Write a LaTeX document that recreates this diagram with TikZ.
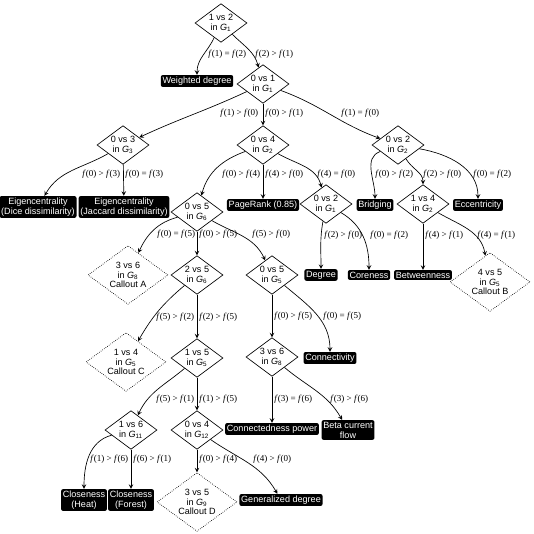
\documentclass[tikz,border=0pt]{standalone}
\usepackage{fontspec}
\setmainfont{Liberation Sans}
\newfontfamily\condfont{Liberation Serif}
\usetikzlibrary{shapes.geometric, arrows, positioning}

\newcommand{\gr}[1]{\textit{G}\textsubscript{#1}}
\newcommand{\fv}[1]{\textit{f}(#1)}

\begin{document}
\begin{tikzpicture}[
    x=0.75pt, y=-0.75pt,
    decision/.style={diamond, draw, line width=0.5pt, aspect=1.4, inner sep=0pt, minimum width=39pt, minimum height=29pt, align=center, font=\fontsize{6.8}{7.4}\selectfont},
    callout/.style={decision, densely dotted, minimum width=60pt, minimum height=44pt},
    metric/.style={rectangle, fill=black, text=white, rounded corners=1.5pt, inner sep=1.3pt, align=center, font=\fontsize{6.8}{7.4}\selectfont},
    arrow/.style={line width=0.5pt, ->, >=stealth},
    cond/.style={font=\condfont\fontsize{6.8}{7.6}\selectfont, inner sep=1.5pt, anchor=west}
]
    \useasboundingbox (0,0) rectangle (534,534);

    % decisions and metrics
    \node [decision] (d12) at (221,23) {1 vs 2\\in \gr{1}};
    \node [metric] (wdeg) at (197,81) {Weighted degree};
    \node [decision] (d01) at (263,84) {0 vs 1\\in \gr{1}};

    \node [decision] (d03) at (123,145) {0 vs 3\\in \gr{3}};
    \node [decision] (d04) at (263,145) {0 vs 4\\in \gr{2}};
    \node [decision] (d02) at (398,145) {0 vs 2\\in \gr{2}};

    \node [metric] (eigdice) at (38,207) {Eigencentrality\\(Dice dissimilarity)};
    \node [metric] (eigjac) at (124,207) {Eigencentrality\\(Jaccard dissimilarity)};
    \node [decision] (d05) at (197,212) {0 vs 5\\in \gr{6}};
    \node [metric] (prank) at (263,205) {PageRank (0.85)};
    \node [decision] (d02b) at (326,204) {0 vs 2\\in \gr{1}};
    \node [metric] (bridg) at (375,205) {Bridging};
    \node [decision] (d14) at (423,204) {1 vs 4\\in \gr{2}};
    \node [metric] (eccen) at (478,205) {Eccentricity};

    \node [callout] (cA) at (128,275) {3 vs 6\\in \gr{8}\\Callout A};
    \node [decision] (d25) at (197,275) {2 vs 5\\in \gr{6}};
    \node [decision] (d05b) at (272,275) {0 vs 5\\in \gr{5}};
    \node [metric] (degr) at (321,275) {Degree};
    \node [metric] (core) at (369,275) {Coreness};
    \node [metric] (betw) at (423,275) {Betweenness};
    \node [callout] (cB) at (490,282) {4 vs 5\\in \gr{5}\\Callout B};

    \node [callout] (cC) at (126,362) {1 vs 4\\in \gr{5}\\Callout C};
    \node [decision] (d15) at (197,358) {1 vs 5\\in \gr{5}};
    \node [decision] (d36) at (272,357) {3 vs 6\\in \gr{8}};
    \node [metric] (conn) at (330,358) {Connectivity};

    \node [decision] (d16) at (131,430) {1 vs 6\\in \gr{11}};
    \node [decision] (d04b) at (197,430) {0 vs 4\\in \gr{12}};
    \node [metric] (cpow) at (272,429) {Connectedness power};
    \node [metric] (beta) at (348,430) {Beta current\\flow};

    \node [metric] (cheat) at (84,500) {Closeness\\(Heat)};
    \node [metric] (cfor) at (131,500) {Closeness\\(Forest)};
    \node [callout] (cD) at (197,502) {3 vs 5\\in \gr{9}\\Callout D};
    \node [metric] (gdeg) at (281,500) {Generalized degree};

    % branches
    \draw [arrow] (d12) to[out=-115, in=90] (wdeg) node[cond] at (206,54) {\fv{1} = \fv{2}};
    \draw [arrow] (d12) to[out=-45, in=105] (d01) node[cond] at (253,54) {\fv{2} > \fv{1}};

    \draw [arrow] (d01) to[out=-155, in=25] (d03) node[cond] at (218,113) {\fv{1} > \fv{0}};
    \draw [arrow] (d01) -- (d04) node[cond] at (263,113) {\fv{0} > \fv{1}};
    \draw [arrow] (d01) to[out=-20, in=160] (d02) node[cond] at (339,113) {\fv{1} = \fv{0}};

    \draw [arrow] (d03) to[out=-150, in=60] (eigdice) node[cond] at (80,174) {\fv{0} > \fv{3}};
    \draw [arrow] (d03) -- (eigjac) node[cond] at (123,174) {\fv{0} = \fv{3}};

    \draw [arrow] (d04) to[out=-160, in=75] (d05) node[cond] at (220,174) {\fv{0} > \fv{4}};
    \draw [arrow] (d04) -- (prank) node[cond] at (263,174) {\fv{4} > \fv{0}};
    \draw [arrow] (d04) to[out=-30, in=105] (d02b) node[cond] at (315,174) {\fv{4} = \fv{0}};

    \draw [arrow] (d02) to[out=-160, in=90] (bridg) node[cond] at (373,174) {\fv{0} > \fv{2}};
    \draw [arrow] (d02) to[out=-60, in=90] (d14) node[cond] at (421,174) {\fv{2} > \fv{0}};
    \draw [arrow] (d02) to[out=-10, in=90] (eccen) node[cond] at (471,174) {\fv{0} = \fv{2}};

    \draw [arrow] (d05) to[out=-165, in=65] (cA) node[cond] at (155,234) {\fv{0} = \fv{5}};
    \draw [arrow] (d05) -- (d25) node[cond] at (197,234) {\fv{0} > \fv{5}};
    \draw [arrow] (d05) to[out=-30, in=115] (d05b) node[cond] at (250,234) {\fv{5} > \fv{0}};

    \draw [arrow] (d02b) to[out=-100, in=90] (degr) node[cond] at (322,235) {\fv{2} > \fv{0}};
    \draw [arrow] (d02b) to[out=-30, in=90] (core) node[cond] at (368,235) {\fv{0} = \fv{2}};
    \draw [arrow] (d14) -- (betw) node[cond] at (423,235) {\fv{4} > \fv{1}};
    \draw [arrow] (d14) to[out=-30, in=100] (cB) node[cond] at (475,235) {\fv{4} = \fv{1}};

    \draw [arrow] (d25) to[out=-140, in=60] (cC) node[cond] at (154,317) {\fv{5} > \fv{2}};
    \draw [arrow] (d25) -- (d15) node[cond] at (197,317) {\fv{2} > \fv{5}};
    \draw [arrow] (d05b) -- (d36) node[cond] at (272,316) {\fv{0} > \fv{5}};
    \draw [arrow] (d05b) to[out=-40, in=90] (conn) node[cond] at (321,316) {\fv{0} = \fv{5}};

    \draw [arrow] (d15) to[out=-140, in=65] (d16) node[cond] at (154,399) {\fv{5} > \fv{1}};
    \draw [arrow] (d15) -- (d04b) node[cond] at (197,399) {\fv{1} > \fv{5}};
    \draw [arrow] (d36) -- (cpow) node[cond] at (272,399) {\fv{3} = \fv{6}};
    \draw [arrow] (d36) to[out=-40, in=120] (beta) node[cond] at (328,399) {\fv{3} > \fv{6}};

    \draw [arrow] (d16) to[out=-165, in=90] (cheat) node[cond] at (88,459) {\fv{1} > \fv{6}};
    \draw [arrow] (d16) -- (cfor) node[cond] at (131,459) {\fv{6} > \fv{1}};
    \draw [arrow] (d04b) -- (cD) node[cond] at (197,459) {\fv{0} > \fv{4}};
    \draw [arrow] (d04b) to[out=-35, in=120] (gdeg) node[cond] at (251,459) {\fv{4} > \fv{0}};
\end{tikzpicture}
\end{document}
